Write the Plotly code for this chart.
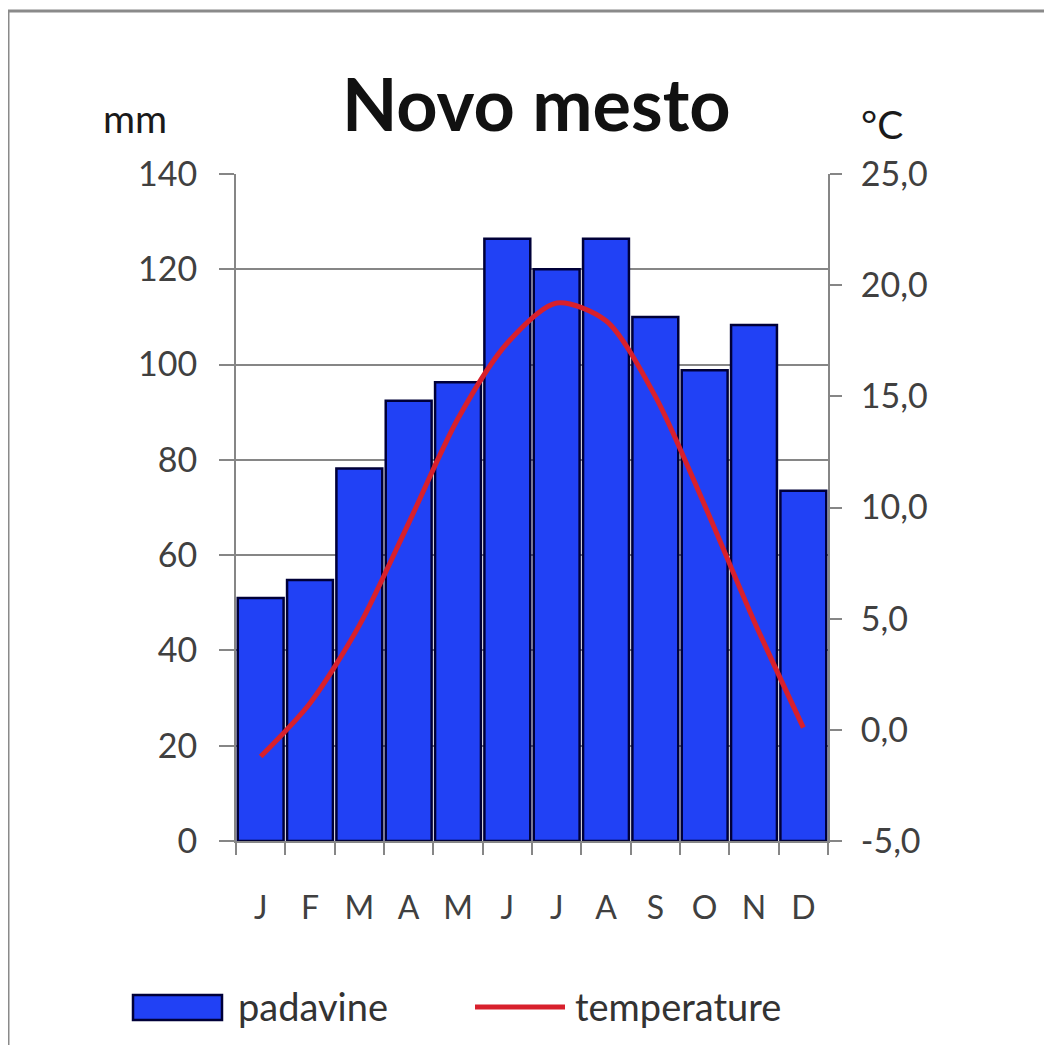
import plotly.graph_objects as go

months = ["J", "F", "M", "A", "M ", "J ", "J  ", "A ", "S", "O", "N", "D"]
month_labels = ["J", "F", "M", "A", "M", "J", "J", "A", "S", "O", "N", "D"]
precip_mm = [51.0, 54.8, 78.2, 92.4, 96.3, 126.4, 120.0, 126.4, 110.0, 98.8, 108.3, 73.5]
temp_c = [-1.2, 1.2, 4.7, 9.3, 14.0, 17.4, 19.2, 18.4, 15.0, 10.1, 4.9, 0.1]
left_ticks = [0, 20, 40, 60, 80, 100, 120, 140]
right_ticks = [-5, 0, 5, 10, 15, 20, 25]
right_labels = [f"{v:.1f}".replace(".", ",") for v in right_ticks]

FONT = "Lato"
W, H = 1036, 1037
L, R, T, B = 228, 216, 166, 204
PW, PH = W - L - R, H - T - B


def px(xf):
    return (xf - L) / PW


def py(yf):
    return (T + PH - yf) / PH


BAR_COL = "#2141f5"
LINE_COL = "#d8202c"

fig = go.Figure()
fig.add_trace(go.Bar(
    x=months, y=precip_mm, name="padavine",
    marker=dict(color=BAR_COL, line=dict(color="#000038", width=2.5)),
    showlegend=False,
))
fig.add_trace(go.Scatter(
    x=months, y=temp_c, name="temperature", yaxis="y2", mode="lines",
    line=dict(color=LINE_COL, width=5, shape="spline", smoothing=0.8),
    showlegend=False,
))

axis_col = "#868686"
tick_font = dict(family=FONT, size=34, color="#404040")

fig.update_layout(
    width=W, height=H,
    margin=dict(l=L, r=R, t=T, b=B, pad=0),
    paper_bgcolor="white", plot_bgcolor="white",
    bargap=0.07,
    xaxis=dict(
        type="category", categoryorder="array", categoryarray=months,
        tickvals=months, ticktext=month_labels,
        tickson="boundaries", ticks="outside", ticklen=12, tickwidth=2, tickcolor=axis_col,
        showline=True, linecolor=axis_col, linewidth=2, showgrid=False,
        tickfont=dict(family=FONT, size=32, color="#404040"),
        ticklabelstandoff=38,
        range=[-0.5, 11.5], fixedrange=True,
    ),
    yaxis=dict(
        range=[0, 140], tickvals=left_ticks, ticks="outside", ticklen=15,
        tickwidth=2, tickcolor=axis_col, showline=True, linecolor=axis_col, linewidth=2,
        showgrid=True, gridcolor=axis_col, gridwidth=2, zeroline=False,
        tickfont=tick_font, ticklabelstandoff=15,
    ),
    yaxis2=dict(
        range=[-5, 25], tickvals=right_ticks, ticktext=right_labels,
        overlaying="y", side="right",
        ticks="outside", ticklen=12, tickwidth=2, tickcolor=axis_col,
        showline=True, linecolor=axis_col, linewidth=2, showgrid=False, zeroline=False,
        tickfont=tick_font, ticklabelstandoff=12,
    ),
)

# outer chart frame
fig.add_shape(type="rect", xref="paper", yref="paper",
              x0=px(0), x1=px(W + 40), y0=py(H + 40), y1=py(3),
              line=dict(color="#8a8a8a", width=3), fillcolor="rgba(0,0,0,0)", layer="below")

# title and axis units
fig.add_annotation(text="<b>Novo mesto</b>", xref="paper", yref="paper",
                   x=px(528), y=py(95), showarrow=False, xanchor="center", yanchor="middle",
                   font=dict(family=FONT, size=72, color="#111111"))
fig.add_annotation(text="mm", xref="paper", yref="paper",
                   x=px(127), y=py(110), showarrow=False, xanchor="center", yanchor="middle",
                   font=dict(family=FONT, size=39, color="#1a1a1a"))
fig.add_annotation(text="°C", xref="paper", yref="paper",
                   x=px(874), y=py(116), showarrow=False, xanchor="center", yanchor="middle",
                   font=dict(family=FONT, size=39, color="#1a1a1a"))

# legend
fig.add_shape(type="rect", xref="paper", yref="paper",
              x0=px(125), x1=px(214), y0=py(1012), y1=py(987),
              line=dict(color="#000038", width=2.5), fillcolor=BAR_COL)
fig.add_annotation(text="padavine", xref="paper", yref="paper",
                   x=px(228), y=py(998), showarrow=False, xanchor="left", yanchor="middle",
                   font=dict(family=FONT, size=38, color="#333333"))
fig.add_shape(type="line", xref="paper", yref="paper",
              x0=px(467), x1=px(557), y0=py(999), y1=py(999),
              line=dict(color=LINE_COL, width=5))
fig.add_annotation(text="temperature", xref="paper", yref="paper",
                   x=px(565), y=py(998), showarrow=False, xanchor="left", yanchor="middle",
                   font=dict(family=FONT, size=38, color="#333333"))

fig.write_html("out.html")
